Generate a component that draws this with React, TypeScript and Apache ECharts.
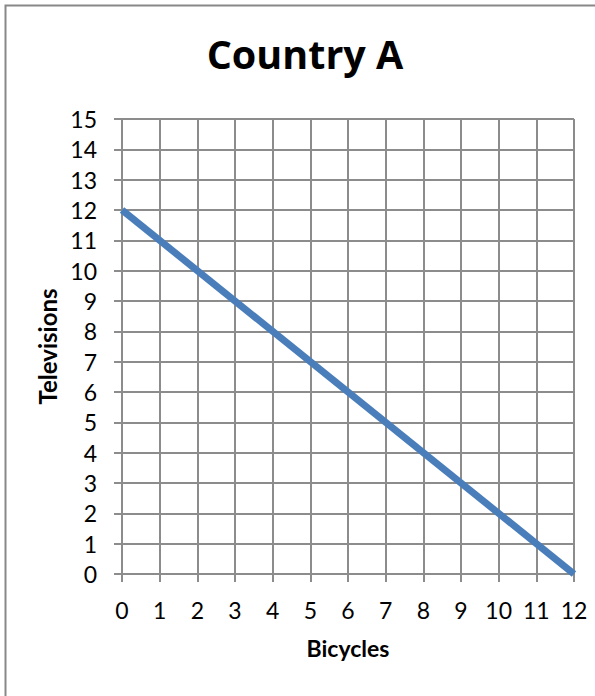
import React, { useEffect, useRef } from "react";
import * as echarts from "echarts";

// Production possibilities frontier for Country A
const bicycles = [0, 12];
const televisions = [12, 0];

const chartTitle = "Country A";
const xAxisTitle = "Bicycles";
const yAxisTitle = "Televisions";

const xMin = 0;
const xMax = 12;
const yMin = 0;
const yMax = 15;

const FONT = "Lato, 'Open Sans', sans-serif";
const TITLE_FONT = "'Open Sans', Lato, sans-serif";
const GRID_GRAY = "#8c8c8c";
const LINE_BLUE = "#4A7EBB";

export default function App() {
  const ref = useRef<HTMLDivElement>(null);

  useEffect(() => {
    if (!ref.current) return;
    const chart = echarts.init(ref.current, null, { renderer: "svg" });
    const points = bicycles.map((b, i) => [b, televisions[i]]);

    chart.setOption({
      animation: false,
      backgroundColor: "#ffffff",
      title: {
        text: chartTitle,
        left: 300,
        top: 29,
        textAlign: "center",
        textStyle: {
          fontFamily: TITLE_FONT,
          fontWeight: "bold",
          fontSize: 39.5,
          color: "#000000",
        },
      },
      graphic: [
        {
          type: "polyline",
          shape: { points: [[5.5, 696], [5.5, 5.5], [595, 5.5]] },
          style: { stroke: "#888888", lineWidth: 2, fill: "none" },
          silent: true,
        },
      ],
      grid: { left: 122, top: 119, right: 21, bottom: 122 },
      xAxis: {
        type: "value",
        min: xMin,
        max: xMax,
        interval: 1,
        name: xAxisTitle,
        nameLocation: "middle",
        nameGap: 62,
        nameTextStyle: {
          fontFamily: FONT,
          fontWeight: "bold",
          fontSize: 23,
          color: "#000000",
        },
        axisLine: { show: true, lineStyle: { color: GRID_GRAY, width: 2 } },
        axisTick: { show: true, length: 8, lineStyle: { color: GRID_GRAY, width: 2 } },
        axisLabel: { margin: 24, fontFamily: FONT, fontSize: 23, color: "#000000" },
        splitLine: { show: true, lineStyle: { color: GRID_GRAY, width: 2 } },
      },
      yAxis: {
        type: "value",
        min: yMin,
        max: yMax,
        interval: 1,
        name: yAxisTitle,
        nameLocation: "middle",
        nameGap: 63,
        nameRotate: 90,
        nameTextStyle: {
          fontFamily: FONT,
          fontWeight: "bold",
          fontSize: 24,
          color: "#000000",
        },
        axisLine: { show: true, lineStyle: { color: GRID_GRAY, width: 2 } },
        axisTick: { show: true, length: 8, lineStyle: { color: GRID_GRAY, width: 2 } },
        axisLabel: { margin: 25, fontFamily: FONT, fontSize: 23, color: "#000000" },
        splitLine: { show: true, lineStyle: { color: GRID_GRAY, width: 2 } },
      },
      series: [
        {
          type: "line",
          data: points,
          showSymbol: false,
          symbol: "none",
          lineStyle: { color: LINE_BLUE, width: 7, cap: "butt" },
          z: 5,
        },
      ],
    });

    return () => chart.dispose();
  }, []);

  return (
    <div
      ref={ref}
      style={{ position: "fixed", left: 0, top: 0, width: 595, height: 696 }}
    />
  );
}
